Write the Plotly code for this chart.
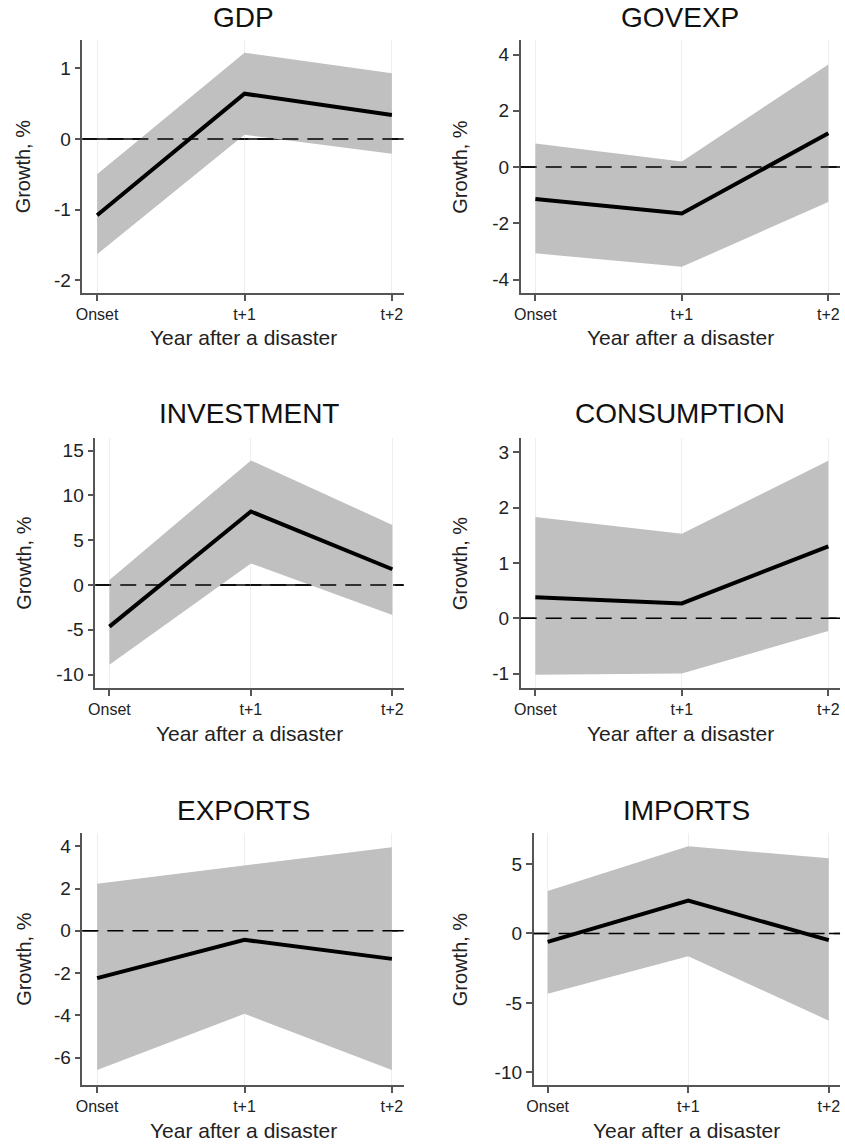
import plotly.graph_objects as go

# ---------------- data ----------------
periods = [0, 1, 2]
period_labels = ["Onset", "t+1", "t+2"]

panel_names = ["GDP", "GOVEXP", "INVESTMENT", "CONSUMPTION", "EXPORTS", "IMPORTS"]

gdp_mid = [-1.08, 0.64, 0.34]
gdp_hi = [-0.50, 1.22, 0.93]
gdp_lo = [-1.63, 0.06, -0.21]

govexp_mid = [-1.14, -1.65, 1.20]
govexp_hi = [0.84, 0.20, 3.65]
govexp_lo = [-3.07, -3.55, -1.24]

inv_mid = [-4.65, 8.20, 1.75]
inv_hi = [0.56, 13.90, 6.70]
inv_lo = [-8.90, 2.40, -3.35]

cons_mid = [0.38, 0.27, 1.30]
cons_hi = [1.83, 1.53, 2.85]
cons_lo = [-1.02, -1.00, -0.23]

exp_mid = [-2.24, -0.43, -1.33]
exp_hi = [2.23, 3.08, 3.96]
exp_lo = [-6.59, -3.93, -6.59]

imp_mid = [-0.60, 2.36, -0.48]
imp_hi = [3.06, 6.27, 5.42]
imp_lo = [-4.34, -1.64, -6.27]

gdp_ticks = [-2, -1, 0, 1]
govexp_ticks = [-4, -2, 0, 2, 4]
inv_ticks = [-10, -5, 0, 5, 10, 15]
cons_ticks = [-1, 0, 1, 2, 3]
exp_ticks = [-6, -4, -2, 0, 2, 4]
imp_ticks = [-10, -5, 0, 5]

mids = [gdp_mid, govexp_mid, inv_mid, cons_mid, exp_mid, imp_mid]
his = [gdp_hi, govexp_hi, inv_hi, cons_hi, exp_hi, imp_hi]
los = [gdp_lo, govexp_lo, inv_lo, cons_lo, exp_lo, imp_lo]
yticks = [gdp_ticks, govexp_ticks, inv_ticks, cons_ticks, exp_ticks, imp_ticks]

# ---------------- layout geometry (pixels) ----------------
W, H = 845, 1144
x_dom_px = [(76, 400), (518, 840), (89, 400), (518, 840), (76, 400), (531, 840)]
y_dom_px = [(40, 293), (40, 293), (438, 688), (438, 688), (833, 1085), (833, 1085)]
y_ranges = [(-2.18, 1.40), (-4.48, 4.52), (-11.5, 16.4), (-1.26, 3.26), (-7.3, 4.63), (-10.9, 7.23)]
x_range = (-0.1, 2.08)
title_px = [17, 17, 413, 413, 810, 810]
ytitle_x_px = [17, 457, 17, 457, 17, 457]

FONT = "Liberation Sans, Arial, sans-serif"
BAND = "#c0c0c0"
AXCOL = "#555555"

fig = go.Figure()
shapes = []
annotations = []
layout_axes = {}

for i in range(6):
    n = i + 1
    xa = "x" if n == 1 else f"x{n}"
    ya = "y" if n == 1 else f"y{n}"
    xkey = "xaxis" if n == 1 else f"xaxis{n}"
    ykey = "yaxis" if n == 1 else f"yaxis{n}"

    # confidence band
    fig.add_trace(go.Scatter(x=periods, y=his[i], mode="lines", line=dict(width=0, color=BAND),
                             hoverinfo="skip", showlegend=False, xaxis=xa, yaxis=ya))
    fig.add_trace(go.Scatter(x=periods, y=los[i], mode="lines", line=dict(width=0, color=BAND),
                             fill="tonexty", fillcolor=BAND, hoverinfo="skip", showlegend=False,
                             xaxis=xa, yaxis=ya))
    # point estimate
    fig.add_trace(go.Scatter(x=periods, y=mids[i], mode="lines", line=dict(width=4, color="black"),
                             showlegend=False, xaxis=xa, yaxis=ya))

    # zero lines: solid beneath the band, dashed on top
    xd = f"{xa} domain"
    shapes.append(dict(type="line", xref=xd, yref=ya, x0=0, x1=1, y0=0, y1=0,
                       line=dict(color="black", width=1.5), layer="below"))
    shapes.append(dict(type="line", xref=xd, yref=ya, x0=0, x1=1, y0=0, y1=0,
                       line=dict(color="black", width=1.5, dash="16px,9px"), layer="above"))

    x0p, x1p = x_dom_px[i]
    y0p, y1p = y_dom_px[i]
    layout_axes[xkey] = dict(
        domain=[x0p / W, x1p / W], anchor=ya, range=list(x_range),
        tickmode="array", tickvals=periods, ticktext=period_labels,
        ticks="outside", ticklen=6, tickwidth=1.5, tickcolor=AXCOL,
        showline=True, linecolor=AXCOL, linewidth=1.5, mirror=False,
        showgrid=True, gridcolor="#eeeeee", gridwidth=1, zeroline=False,
        tickfont=dict(family=FONT, size=16, color="#222222"),
        fixedrange=True,
    )
    layout_axes[ykey] = dict(
        domain=[1 - y1p / H, 1 - y0p / H], anchor=xa, range=list(y_ranges[i]),
        tickmode="array", tickvals=yticks[i], ticktext=[str(v) for v in yticks[i]],
        ticks="outside", ticklen=6, tickwidth=1.5, tickcolor=AXCOL,
        showline=True, linecolor=AXCOL, linewidth=1.5, mirror=False,
        showgrid=False, zeroline=False,
        tickfont=dict(family=FONT, size=19, color="#222222"),
        fixedrange=True,
    )

    cx = (x0p + x1p) / 2 / W
    # panel title
    annotations.append(dict(text=panel_names[i], x=cx, y=1 - title_px[i] / H, xref="paper", yref="paper",
                            xanchor="center", yanchor="middle", showarrow=False,
                            font=dict(family=FONT, size=28, color="#111111")))
    # x axis title
    annotations.append(dict(text="Year after a disaster", x=cx, y=1 - (y1p + 45) / H, xref="paper",
                            yref="paper", xanchor="center", yanchor="middle", showarrow=False,
                            font=dict(family=FONT, size=21, color="#222222")))
    # y axis title
    annotations.append(dict(text="Growth, %", x=ytitle_x_px[i] / W, y=1 - (y0p + y1p) / 2 / H,
                            xref="paper", yref="paper", xanchor="center", yanchor="middle",
                            textangle=-90, showarrow=False,
                            font=dict(family=FONT, size=20, color="#222222")))

fig.update_layout(
    width=W, height=H,
    margin=dict(l=0, r=0, t=0, b=0),
    paper_bgcolor="white", plot_bgcolor="white",
    showlegend=False,
    shapes=shapes, annotations=annotations,
    **layout_axes,
)

fig.write_html("out.html", config={"displayModeBar": False},
               post_script="document.body.style.margin='0';document.body.style.overflow='hidden';")
